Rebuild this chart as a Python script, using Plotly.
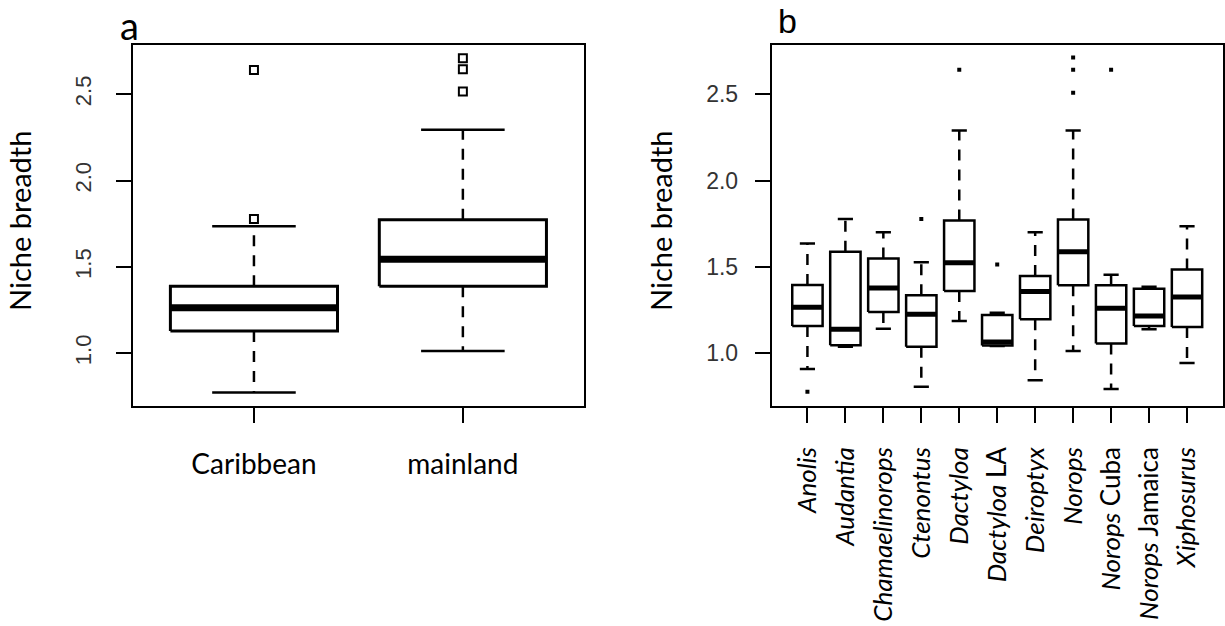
import plotly.graph_objects as go

# ---------------- data ----------------
groups_a = ["Caribbean", "mainland"]
a_lo = [0.773, 1.013]
a_q1 = [1.129, 1.388]
a_med = [1.264, 1.544]
a_q3 = [1.388, 1.773]
a_hi = [1.735, 2.294]
a_out = [[1.777, 2.640], [2.515, 2.644, 2.708]]

groups_b = ["Anolis", "Audantia", "Chamaelinorops", "Ctenontus", "Dactyloa",
            "Dactyloa LA", "Deiroptyx", "Norops", "Norops Cuba", "Norops Jamaica",
            "Xiphosurus"]
labels_b = ["<i>Anolis</i>", "<i>Audantia</i>", "<i>Chamaelinorops</i>", "<i>Ctenontus</i>",
            "<i>Dactyloa</i>", "<i>Dactyloa</i> LA", "<i>Deiroptyx</i>", "<i>Norops</i>",
            "<i>Norops</i> Cuba", "<i>Norops</i> Jamaica", "<i>Xiphosurus</i>"]
b_lo = [0.908, 1.037, 1.142, 0.806, 1.187, 1.042, 0.844, 1.013, 0.792, 1.139, 0.944]
b_q1 = [1.158, 1.046, 1.239, 1.037, 1.360, 1.045, 1.196, 1.393, 1.056, 1.158, 1.152]
b_med = [1.266, 1.139, 1.377, 1.225, 1.524, 1.065, 1.358, 1.587, 1.260, 1.216, 1.325]
b_q3 = [1.395, 1.587, 1.549, 1.335, 1.768, 1.221, 1.447, 1.774, 1.393, 1.373, 1.485]
b_hi = [1.635, 1.778, 1.701, 1.527, 2.290, 1.235, 1.701, 2.290, 1.454, 1.385, 1.735]
b_out = [[0.777], [], [], [1.778], [2.642], [1.514], [], [2.509, 2.642, 2.713],
         [2.642], [], []]

y_ticks = [1.0, 1.5, 2.0, 2.5]
y_ticktext = ["1.0", "1.5", "2.0", "2.5"]
y_range = [0.696, 2.785]

BOXW = 0.8
fig = go.Figure()


def add_boxes(xa, ya, lo, q1, med, q3, hi, outs, lw, medw, wlw, osym, osize, olw):
    bx, by, mx, my, wx, wy, cx, cy, ox, oy = [], [], [], [], [], [], [], [], [], []
    h = BOXW / 2
    for i in range(len(q1)):
        p = i + 1
        bx += [p - h, p + h, p + h, p - h, p - h, None]
        by += [q1[i], q1[i], q3[i], q3[i], q1[i], None]
        mx += [p - h, p + h, None]
        my += [med[i], med[i], None]
        wx += [p, p, None, p, p, None]
        wy += [q3[i], hi[i], None, q1[i], lo[i], None]
        cx += [p - h / 2, p + h / 2, None, p - h / 2, p + h / 2, None]
        cy += [hi[i], hi[i], None, lo[i], lo[i], None]
        for v in outs[i]:
            ox.append(p)
            oy.append(v)
    common = dict(xaxis=xa, yaxis=ya, mode="lines", showlegend=False, hoverinfo="skip")
    fig.add_trace(go.Scatter(x=wx, y=wy, line=dict(color="black", width=wlw, dash="11px,9px"), **common))
    fig.add_trace(go.Scatter(x=cx, y=cy, line=dict(color="black", width=wlw), **common))
    fig.add_trace(go.Scatter(x=bx, y=by, fill="toself", fillcolor="white",
                             line=dict(color="black", width=lw), **common))
    fig.add_trace(go.Scatter(x=mx, y=my, line=dict(color="black", width=medw), **common))
    fig.add_trace(go.Scatter(x=ox, y=oy, xaxis=xa, yaxis=ya, mode="markers", showlegend=False,
                             marker=dict(symbol=osym, size=osize, color="black",
                                         line=dict(color="black", width=olw))))


add_boxes("x", "y", a_lo, a_q1, a_med, a_q3, a_hi, a_out, 3, 7, 2.5, "square-open", 8, 2)
add_boxes("x2", "y2", b_lo, b_q1, b_med, b_q3, b_hi, b_out, 2.5, 5, 2.5, "square", 4, 0)

W, H = 1225, 626
axis_common = dict(showline=True, mirror=True, linecolor="black", linewidth=2,
                   showgrid=False, zeroline=False, ticks="outside", ticklen=15,
                   tickwidth=2, tickcolor="black")

fig.update_layout(
    width=W, height=H, margin=dict(l=0, r=0, t=0, b=0),
    paper_bgcolor="white", plot_bgcolor="white",
    xaxis=dict(domain=[133 / W, 585 / W], range=[0.42, 2.58], anchor="y",
               tickvals=[1, 2], ticktext=groups_a,
               tickfont=dict(family="Lato", size=28, color="black"),
               ticklabelstandoff=18, **axis_common),
    yaxis=dict(domain=[1 - 405.7 / H, 1 - 45 / H], range=y_range, anchor="x",
               tickvals=y_ticks, ticktext=y_ticktext, tickangle=-90,
               tickfont=dict(family="Liberation Sans", size=22, color="#333333"),
               ticklabelstandoff=16, **axis_common),
    xaxis2=dict(domain=[773 / W, 1224.7 / W], range=[0.06, 11.94], anchor="y2",
                tickvals=list(range(1, 12)), ticktext=labels_b, tickangle=-90,
                tickfont=dict(family="Lato", size=26, color="black"),
                ticklabelstandoff=14, **axis_common),
    yaxis2=dict(domain=[1 - 405.7 / H, 1 - 45 / H], range=y_range, anchor="x2",
                tickvals=y_ticks, ticktext=y_ticktext,
                tickfont=dict(family="Liberation Sans", size=23, color="#333333"),
                ticklabelstandoff=12, **axis_common),
    annotations=[
        dict(text="Niche breadth", x=19 / W, y=1 - 221 / H, xref="paper", yref="paper",
             textangle=-90, showarrow=False, xanchor="center", yanchor="middle",
             font=dict(family="Lato", size=29, color="black")),
        dict(text="Niche breadth", x=661 / W, y=1 - 221 / H, xref="paper", yref="paper",
             textangle=-90, showarrow=False, xanchor="center", yanchor="middle",
             font=dict(family="Lato", size=29, color="black")),
        dict(text="a", x=130 / W, y=1, xref="paper", yref="paper",
             showarrow=False, xanchor="center", yanchor="top",
             font=dict(family="Lato", size=38, color="black")),
        dict(text="b", x=789 / W, y=1, xref="paper", yref="paper",
             showarrow=False, xanchor="center", yanchor="top",
             font=dict(family="Liberation Sans", size=34, color="black")),
    ],
)

fig.write_html("out.html", config={"displayModeBar": False},
               post_script="document.body.style.margin='0';document.body.style.overflow='hidden';")
